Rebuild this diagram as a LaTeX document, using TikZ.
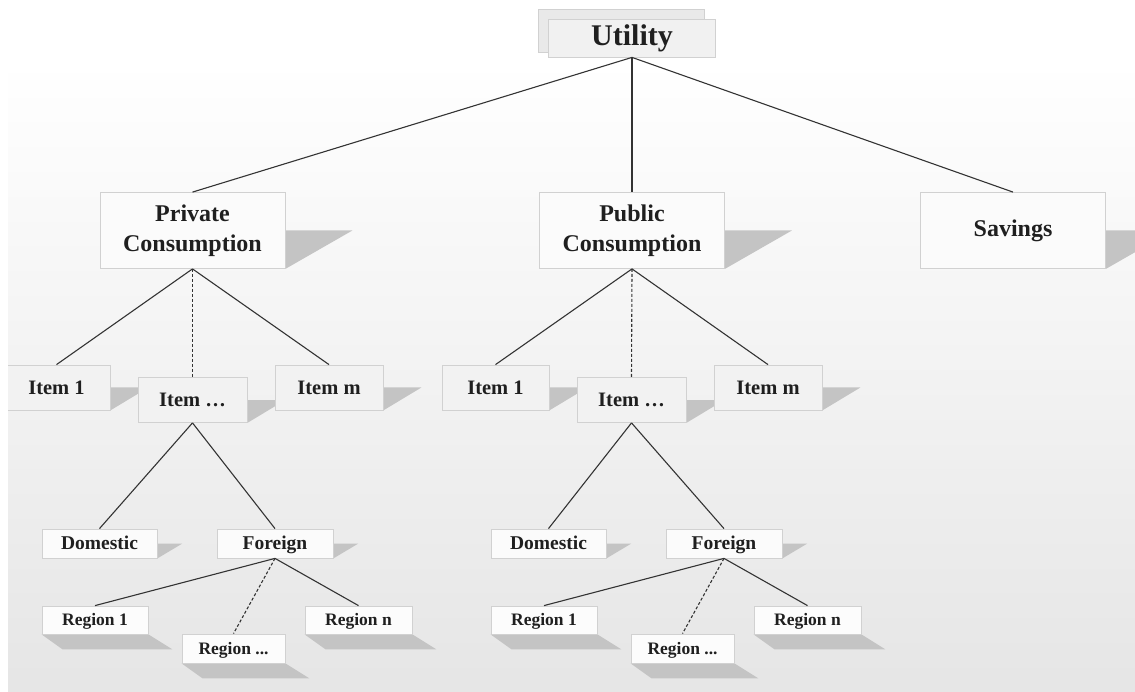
\documentclass[tikz,border=0pt]{standalone}
\usepackage{fontspec}
\setmainfont{Liberation Serif}
\usepackage{tikz}

\pgfdeclarelayer{paper}
\pgfdeclarelayer{shade}
\pgfsetlayers{paper,shade,main}

\definecolor{linkgray}{gray}{0.2}
\definecolor{boxline}{gray}{0.82}
\definecolor{shadowgray}{gray}{0.77}
\definecolor{paperlow}{gray}{0.9}

\tikzset{
  level box/.style={draw=boxline,line width=0.8pt,align=center,inner sep=0pt,text=black!88},
  topbox/.style={level box,fill=gray!3,minimum width=185pt,minimum height=76pt,font=\fontsize{24}{30}\selectfont\bfseries},
  itembox/.style={level box,text height=18pt,text depth=4.5pt,fill=gray!10,minimum width=107pt,minimum height=45pt,font=\fontsize{20.5}{22}\selectfont\bfseries},
  originbox/.style={level box,text height=17.2pt,text depth=4.3pt,fill=gray!3,minimum width=116pt,minimum height=29pt,font=\fontsize{19.5}{20}\selectfont\bfseries},
  regionbox/.style={level box,text height=15.4pt,text depth=3.9pt,fill=gray!2,minimum width=106pt,minimum height=28pt,font=\fontsize{17.5}{18}\selectfont\bfseries},
  branch/.style={draw=linkgray,line width=1.1pt},
  dashbranch/.style={branch,dash pattern=on 3pt off 2pt}
}

\newcommand\sideshadow[2]{\begin{pgfonlayer}{shade}\fill[shadowgray] (#1.east) -- ++(#2,0) -- (#1.south east) -- cycle;\end{pgfonlayer}}
\newcommand\dropshadow[1]{\begin{pgfonlayer}{shade}\fill[shadowgray] (#1.south west) -- (#1.south east) -- ([shift={(24,15)}]#1.south east) -- ([shift={(21,15)}]#1.south west) -- cycle;\end{pgfonlayer}}

\begin{document}
\begin{tikzpicture}[x=1pt,y=-1pt]
\useasboundingbox (0,0) rectangle (1135,692);
\begin{pgfonlayer}{paper}
  \fill[white] (0,0) rectangle (1135,692);
  \shade[top color=white,bottom color=paperlow] (8,60) rectangle (1135,692);
\end{pgfonlayer}

\node[level box,fill=gray!17,minimum width=166pt,minimum height=43pt] (ughost) at (621,30.5) {};
\node[level box,fill=gray!11,minimum width=167pt,minimum height=38pt,font=\fontsize{30}{34}\selectfont\bfseries] (util) at (632,38) {Utility};

\foreach \i/\txt/\cx in {priv/Private\\Consumption/192.5,publ/Public\\Consumption/632,save/Savings/1013}
  {
   \node[topbox] (\i) at (\cx,230.5) {\txt};
   \sideshadow{\i}{67}
   \draw[branch] (util.south) -- (\i.north);
  }

\foreach \t/\dx/\ex in {priv/0/0,publ/439/449}
  {
   \node[itembox] (\t-i1) at (56.5+\dx,387.5) {Item 1};
   \node[itembox,minimum width=109pt] (\t-ix) at (192.5+\dx,400) {Item \dots};
   \node[itembox,minimum width=108pt] (\t-im) at (329+\dx,387.5) {Item m};
   \sideshadow{\t-i1}{38} \sideshadow{\t-ix}{38} \sideshadow{\t-im}{38}
   \draw[branch] (\t.south) -- (\t-i1.north);
   \draw[dashbranch] (\t.south) -- (\t-ix.north);
   \draw[branch] (\t.south) -- (\t-im.north);

   \node[originbox,minimum width=115pt] (\t-dom) at (99.5+\ex,543.5) {Domestic};
   \node[originbox] (\t-for) at (275+\ex,543.5) {Foreign};
   \sideshadow{\t-dom}{25} \sideshadow{\t-for}{25}
   \draw[branch] (\t-ix.south) -- (\t-dom.north);
   \draw[branch] (\t-ix.south) -- (\t-for.north);

   \node[regionbox] (\t-r1) at (95+\ex,620) {Region 1};
   \node[regionbox,minimum width=103pt,minimum height=29pt] (\t-rx) at (233.5+\ex,648.5) {Region ...};
   \node[regionbox,minimum width=107pt] (\t-rn) at (358.5+\ex,620) {Region n};
   \dropshadow{\t-r1} \dropshadow{\t-rx} \dropshadow{\t-rn}
   \draw[branch] (\t-for.south) -- (\t-r1.north);
   \draw[dashbranch] (\t-for.south) -- (\t-rx.north);
   \draw[branch] (\t-for.south) -- (\t-rn.north);
  }

\fill[white] (0,0) rectangle (8,692);
\end{tikzpicture}
\end{document}
